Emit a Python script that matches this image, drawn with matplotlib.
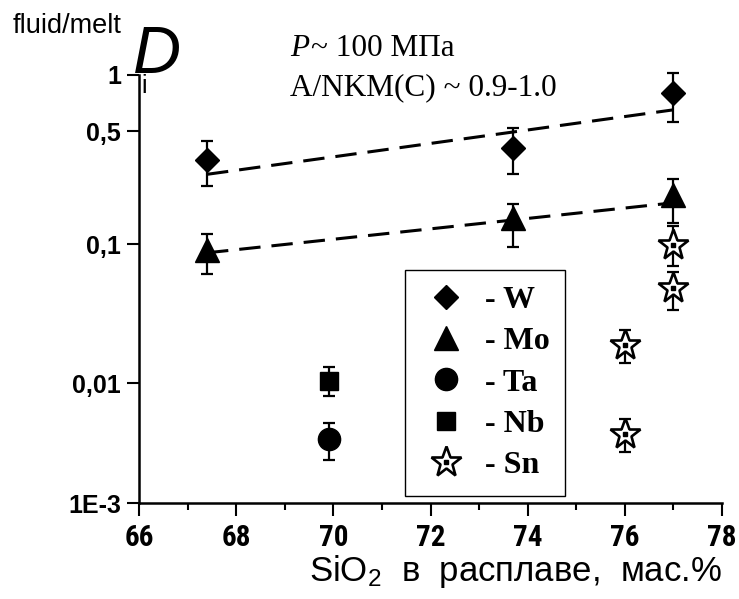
import numpy as np
import matplotlib
matplotlib.use("Agg")
import matplotlib.pyplot as plt
from matplotlib import font_manager
from matplotlib.legend_handler import HandlerTuple
from matplotlib.ticker import FixedLocator, NullLocator

# ---------------- data ----------------
w_x = [67.4, 73.7, 77.0]
w_y = [0.33, 0.39, 0.80]
w_lo = [0.228, 0.271, 0.557]
w_hi = [0.434, 0.517, 1.03]

mo_x = [67.4, 73.7, 77.0]
mo_y = [0.091, 0.145, 0.20]
mo_lo = [0.0605, 0.0957, 0.136]
mo_hi = [0.115, 0.176, 0.252]

ta_x = [69.9]
ta_y = [0.0034]
ta_lo = [0.00231]
ta_hi = [0.00467]

nb_x = [69.9]
nb_y = [0.0103]
nb_lo = [0.00783]
nb_hi = [0.0131]

sn_x = [77.0, 77.0, 76.0, 76.0]
sn_y = [0.098, 0.048, 0.0188, 0.0038]
sn_lo = [0.0695, 0.0335, 0.0139, 0.00268]
sn_hi = [0.129, 0.0626, 0.0243, 0.0050]

# fitted trend lines (end points)
w_fit_x = [67.4, 77.0]
w_fit_y = [0.27, 0.65]
mo_fit_x = [67.4, 77.0]
mo_fit_y = [0.0866, 0.18]

y_ticks = [0.001, 0.01, 0.1, 0.5, 1.0]
y_ticklabels = ["1E-3", "0,01", "0,1", "0,5", "1"]
x_ticks = [66, 68, 70, 72, 74, 76, 78]

# ---------------- fonts ----------------
sans = "Liberation Sans"
serif = "Liberation Serif"
narrow = sans
narrow_stretch = "normal"
_names = {f.name for f in font_manager.fontManager.ttflist}
_found = False
for cand in ["Liberation Sans Narrow", "Roboto Condensed", "Open Sans Condensed",
             "DejaVu Sans Condensed"]:
    if cand in _names:
        narrow = cand
        _found = True
        break
if not _found:
    for f in font_manager.fontManager.ttflist:
        if f.stretch in ("condensed", "semi-condensed") and "Sans" in f.name \
                and "Mono" not in f.name:
            narrow = f.name
            narrow_stretch = f.stretch
            break

plt.rcParams["mathtext.fontset"] = "custom"
plt.rcParams["mathtext.rm"] = sans
plt.rcParams["mathtext.it"] = sans + ":italic"

# ---------------- the (non-uniform) log-like axis of the original ----------------
k_log = np.array([-4.0, -3.0, -2.0, -1.0, np.log10(0.5), 0.0, 1.0])
k_pos = np.array([-120.0, 0.0, 120.0, 259.0, 372.0, 428.0, 614.0])


def fwd(v):
    v = np.asarray(v, dtype=float)
    lv = np.log10(np.clip(v, 1e-12, None))
    return np.interp(lv, k_log, k_pos)


def inv(p):
    p = np.asarray(p, dtype=float)
    return 10 ** np.interp(p, k_pos, k_log)


fig = plt.figure(figsize=(7.39, 5.99), dpi=100)
ax = fig.add_axes([0.1881, 0.1598, 0.789, 0.715])
ax.set_yscale("function", functions=(fwd, inv))
ax.set_xlim(66, 78)
ax.set_ylim(0.001, 1.0)

for s in ["top", "right"]:
    ax.spines[s].set_visible(False)
for s in ["left", "bottom"]:
    ax.spines[s].set_linewidth(1.8)

ax.yaxis.set_major_locator(FixedLocator(y_ticks))
ax.yaxis.set_minor_locator(NullLocator())
ax.set_yticklabels(y_ticklabels)
ax.set_xticks(x_ticks)
ax.set_xticks(np.arange(67, 78, 2), minor=True)
ax.tick_params(axis="both", which="major", direction="out", length=9, width=1.5)
ax.tick_params(axis="x", which="minor", direction="out", length=5, width=1.5)
ax.tick_params(axis="y", pad=4)
ax.tick_params(axis="x", pad=6)
for lab in ax.get_yticklabels():
    lab.set_fontfamily(sans)
    lab.set_fontweight("bold")
    lab.set_fontsize(18)
for lab in ax.get_xticklabels():
    lab.set_fontfamily(narrow)
    lab.set_fontstretch(narrow_stretch)
    lab.set_fontweight("bold")
    lab.set_fontsize(21)

# trend lines
lw_d = 2.2
ax.plot(w_fit_x, w_fit_y, color="black", lw=lw_d, ls=(0, (7.0, 3.6)), zorder=2)
ax.plot(mo_fit_x, mo_fit_y, color="black", lw=lw_d, ls=(0, (7.0, 3.6)), zorder=2)


def ebar(x, y, lo, hi):
    y = np.array(y)
    yerr = np.vstack([y - np.array(lo), np.array(hi) - y])
    ax.errorbar(x, y, yerr=yerr, fmt="none", ecolor="black", elinewidth=1.6,
                capsize=4, capthick=1.6, zorder=3, clip_on=False)


ebar(w_x, w_y, w_lo, w_hi)
ebar(mo_x, mo_y, mo_lo, mo_hi)
ebar(ta_x, ta_y, ta_lo, ta_hi)
ebar(nb_x, nb_y, nb_lo, nb_hi)
ebar(sn_x, sn_y, sn_lo, sn_hi)

hw, = ax.plot(w_x, w_y, ls="none", marker="D", ms=12.5, color="black", zorder=4, clip_on=False)
hmo, = ax.plot(mo_x, mo_y, ls="none", marker="^", ms=17, color="black", zorder=4)
hta, = ax.plot(ta_x, ta_y, ls="none", marker="o", ms=16, color="black", zorder=4)
hnb, = ax.plot(nb_x, nb_y, ls="none", marker="s", ms=13.5, color="black", zorder=4)
hsn, = ax.plot(sn_x, sn_y, ls="none", marker="*", ms=23, mfc="white", mec="black",
               mew=1.9, zorder=4)
hsd, = ax.plot(sn_x, sn_y, ls="none", marker="s", ms=2.5, color="black", zorder=5)

leg = ax.legend([hw, hmo, hta, hnb, (hsn, hsd)], ["- W", "- Mo", "- Ta", "- Nb", "- Sn"],
                handler_map={tuple: HandlerTuple(ndivide=1)},
                loc="upper left", bbox_to_anchor=(0.456, 0.545), borderaxespad=0,
                prop={"family": serif, "weight": "bold", "size": 23},
                frameon=True, fancybox=False, edgecolor="black", framealpha=1,
                handlelength=1.6, handletextpad=0.4, labelspacing=0.37,
                borderpad=0.5, numpoints=1)
leg.get_frame().set_linewidth(1.0)

# annotation texts
fig.text(13 / 739, 1 - 33 / 599, "fluid/melt", family=sans, fontsize=19.5, ha="left",
         va="baseline")
fig.text(133 / 739, 1 - 73 / 599, "D", family=sans, style="italic", fontsize=48,
         ha="left", va="baseline")
fig.text(141 / 739, 1 - 93 / 599, "i", family=sans, fontsize=18, ha="left", va="baseline")
tp = fig.text(290 / 739, 1 - 56 / 599, "P", family=serif, style="italic", fontsize=22.5,
              ha="left", va="baseline")
fig.canvas.draw()
bb = tp.get_window_extent()
fig.text((bb.x1 + 2) / fig.bbox.width, 1 - 56 / 599, "~ 100 МПа", family=serif,
         fontsize=22.5, ha="left", va="baseline")
fig.text(290 / 739, 1 - 95 / 599, "A/NKM(C) ~ 0.9-1.0", family=serif, fontsize=22.5,
         ha="left", va="baseline")

# x label with subscript
fig.text(722 / 739, 1 - 581 / 599, r"SiO$_{2}$  в  расплаве,  мас.%", family=sans,
         fontsize=25, ha="right", va="baseline")

fig.savefig("out.png", dpi=100)
